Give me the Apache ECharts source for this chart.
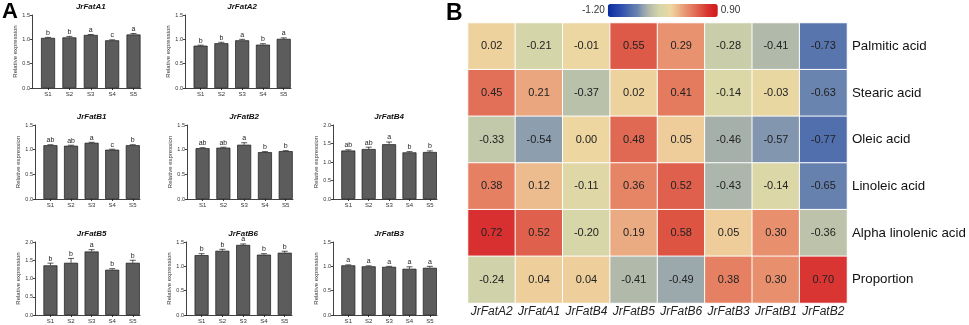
<!DOCTYPE html>
<html>
<head>
<meta charset="utf-8">
<script src="https://cdn.jsdelivr.net/npm/echarts@6/dist/echarts.min.js"></script>
<style>
html,body{margin:0;padding:0;background:#fff;}
#chart{width:969px;height:325px;}
</style>
</head>
<body>
<div id="chart"></div>
<script>
// ---------- Panel A data ----------
const samples = ['S1', 'S2', 'S3', 'S4', 'S5'];

const nameA1 = 'JrFatA1';
const valA1 = [1.03, 1.04, 1.09, 0.98, 1.10];
const errA1 = [0.01, 0.02, 0.01, 0.01, 0.02];
const letA1 = ['b', 'b', 'a', 'c', 'a'];

const nameA2 = 'JrFatA2';
const valA2 = [0.87, 0.92, 0.98, 0.89, 1.01];
const errA2 = [0.01, 0.02, 0.02, 0.02, 0.02];
const letA2 = ['b', 'b', 'a', 'b', 'a'];

const nameB1 = 'JrFatB1';
const valB1 = [1.09, 1.08, 1.14, 1.00, 1.09];
const errB1 = [0.01, 0.01, 0.01, 0.01, 0.01];
const letB1 = ['ab', 'ab', 'a', 'c', 'b'];

const nameB2 = 'JrFatB2';
const valB2 = [1.03, 1.04, 1.10, 0.95, 0.97];
const errB2 = [0.01, 0.01, 0.04, 0.01, 0.01];
const letB2 = ['ab', 'ab', 'a', 'b', 'b'];

const nameB4 = 'JrFatB4';
const valB4 = [1.31, 1.35, 1.48, 1.26, 1.27];
const errB4 = [0.02, 0.05, 0.06, 0.02, 0.03];
const letB4 = ['ab', 'ab', 'a', 'b', 'b'];

const nameB5 = 'JrFatB5';
const valB5 = [1.36, 1.43, 1.74, 1.24, 1.43];
const errB5 = [0.06, 0.12, 0.05, 0.03, 0.07];
const letB5 = ['b', 'b', 'a', 'b', 'b'];

const nameB6 = 'JrFatB6';
const valB6 = [1.23, 1.32, 1.44, 1.24, 1.28];
const errB6 = [0.03, 0.03, 0.02, 0.02, 0.03];
const letB6 = ['b', 'b', 'a', 'b', 'b'];

const nameB3 = 'JrFatB3';
const valB3 = [1.02, 1.00, 0.99, 0.95, 0.97];
const errB3 = [0.01, 0.01, 0.01, 0.04, 0.03];
const letB3 = ['a', 'a', 'a', 'a', 'a'];

const yMaxList = [1.5, 1.5, 1.5, 1.5, 2.0, 2.0, 1.5, 1.5];

// ---------- Panel B data ----------
const genes = ['JrFatA2', 'JrFatA1', 'JrFatB4', 'JrFatB5', 'JrFatB6', 'JrFatB3', 'JrFatB1', 'JrFatB2'];
const acids = ['Palmitic acid', 'Stearic acid', 'Oleic acid', 'Linoleic acid', 'Alpha linolenic acid', 'Proportion'];
const palmitic   = [0.02, -0.21, -0.01, 0.55, 0.29, -0.28, -0.41, -0.73];
const stearic    = [0.45, 0.21, -0.37, 0.02, 0.41, -0.14, -0.03, -0.63];
const oleic      = [-0.33, -0.54, 0.00, 0.48, 0.05, -0.46, -0.57, -0.77];
const linoleic   = [0.38, 0.12, -0.11, 0.36, 0.52, -0.43, -0.14, -0.65];
const alphaLin   = [0.72, 0.52, -0.20, 0.19, 0.58, 0.05, 0.30, -0.36];
const proportion = [-0.24, 0.04, 0.04, -0.41, -0.49, 0.38, 0.30, 0.70];
const scaleMin = -1.20, scaleMax = 0.90;

// colour ramp anchors (style only): [value, colour]
const rampAnchors = [
  [-1.20, '#0a2ca0'], [-0.90, '#3656b0'], [-0.75, '#5572ac'], [-0.63, '#6a84b0'],
  [-0.55, '#8a9cb0'], [-0.45, '#a8b2aa'], [-0.33, '#c2c8aa'], [-0.20, '#d6d6a8'],
  [-0.05, '#e6d8a4'], [0.00, '#eed6a0'], [0.05, '#eecd9a'], [0.20, '#eaa880'],
  [0.30, '#e8906e'], [0.40, '#e47c60'], [0.50, '#df6450'], [0.60, '#dc5040'],
  [0.72, '#d83030'], [0.90, '#d01818']
];
function hex2rgb(h) { return [1, 3, 5].map(i => parseInt(h.substr(i, 2), 16)); }
function rampColor(v) {
  for (let i = 0; i < rampAnchors.length - 1; i++) {
    const [v0, c0] = rampAnchors[i], [v1, c1] = rampAnchors[i + 1];
    if (v <= v1 + 1e-9) {
      const t = (v - v0) / (v1 - v0);
      const a = hex2rgb(c0), b = hex2rgb(c1);
      return 'rgb(' + a.map((x, k) => Math.round(x + (b[k] - x) * t)).join(',') + ')';
    }
  }
  return rampAnchors[rampAnchors.length - 1][1];
}
const rampColors = [];
for (let k = 0; k <= 210; k++) rampColors.push(rampColor(scaleMin + (scaleMax - scaleMin) * k / 210));

// ---------- layout ----------
const FONT = '"Liberation Sans", Arial, sans-serif';
const panels = [
  {name: nameA1, val: valA1, err: errA1, let: letA1, grid: {left: 32,  top: 15,  width: 109, height: 73}},
  {name: nameA2, val: valA2, err: errA2, let: letA2, grid: {left: 185, top: 15,  width: 106, height: 73}},
  {name: nameB1, val: valB1, err: errB1, let: letB1, grid: {left: 35,  top: 125, width: 105, height: 74}},
  {name: nameB2, val: valB2, err: errB2, let: letB2, grid: {left: 187, top: 125, width: 106, height: 74}},
  {name: nameB4, val: valB4, err: errB4, let: letB4, grid: {left: 333, top: 125, width: 104, height: 74}},
  {name: nameB5, val: valB5, err: errB5, let: letB5, grid: {left: 35,  top: 242, width: 105, height: 73}},
  {name: nameB6, val: valB6, err: errB6, let: letB6, grid: {left: 186, top: 242, width: 106, height: 73}},
  {name: nameB3, val: valB3, err: errB3, let: letB3, grid: {left: 333, top: 242, width: 104, height: 73}}
];
const X_MIN = 0.25, X_MAX = 5.35;

const grids = [], xAxes = [], yAxes = [], series = [], titles = [];
panels.forEach((p, i) => {
  grids.push(Object.assign({outerBoundsMode: 'none', containLabel: false}, p.grid));
  const ymax = yMaxList[i];
  xAxes.push({
    gridIndex: i, type: 'value', min: X_MIN, max: X_MAX,
    splitLine: {show: false},
    axisLine: {show: true, lineStyle: {color: '#111', width: 0.8}},
    axisTick: {show: true, length: 2, lineStyle: {color: '#111', width: 0.8},
               customValues: samples.map((s, k) => k + 1)},
    axisLabel: {fontSize: 6, color: '#333', margin: 3, fontFamily: FONT,
                customValues: samples.map((s, k) => k + 1),
                formatter: v => samples[Math.round(v) - 1] || ''}
  });
  yAxes.push({
    gridIndex: i, type: 'value', min: 0, max: ymax, interval: 0.5,
    splitLine: {show: false},
    axisLine: {show: true, lineStyle: {color: '#111', width: 0.8}},
    axisTick: {show: true, length: 2, lineStyle: {color: '#111', width: 0.8}},
    axisLabel: {fontSize: 5.5, color: '#333', margin: 2, fontFamily: FONT,
                formatter: v => v.toFixed(1)},
    name: 'Relative expression', nameLocation: 'middle', nameGap: 13,
    nameTextStyle: {fontSize: 6, color: '#333', fontFamily: FONT}
  });
  series.push({
    type: 'bar', xAxisIndex: i, yAxisIndex: i, barWidth: 14,
    itemStyle: {color: '#5c5c5c', borderColor: '#1a1a1a', borderWidth: 0.7},
    data: p.val.map((v, k) => [k + 1, v]),
    silent: true, animation: false
  });
  const letters = p.let;
  series.push({
    type: 'custom', xAxisIndex: i, yAxisIndex: i, silent: true, animation: false,
    data: p.val.map((v, k) => [k + 1, v, p.err[k]]),
    renderItem: (params, api) => {
      const x = api.value(0), v = api.value(1), e = api.value(2);
      const b = api.coord([x, v]);
      const t = api.coord([x, v + e]);
      return {type: 'group', children: [
        {type: 'line', shape: {x1: b[0], y1: b[1], x2: t[0], y2: t[1]}, style: {stroke: '#111', lineWidth: 0.7}},
        {type: 'line', shape: {x1: t[0] - 3, y1: t[1], x2: t[0] + 3, y2: t[1]}, style: {stroke: '#111', lineWidth: 0.7}},
        {type: 'text', style: {text: letters[params.dataIndex], x: t[0], y: t[1] - 1,
          textAlign: 'center', textVerticalAlign: 'bottom', fontSize: 7, fill: '#222', fontFamily: FONT}}
      ]};
    }
  });
  const g = p.grid;
  const cx = g.left + g.width * ((3 - X_MIN) / (X_MAX - X_MIN));
  titles.push({
    text: p.name, left: cx, top: g.top - 12, textAlign: 'center', padding: 0,
    textStyle: {fontSize: 8, fontWeight: 'bold', fontStyle: 'italic', color: '#111', fontFamily: FONT}
  });
});

titles.push({text: 'A', left: 2, top: 1, padding: 0, textStyle: {fontSize: 22, fontWeight: 'bold', color: '#000', fontFamily: FONT}});
titles.push({text: 'B', left: 446, top: 2, padding: 0, textStyle: {fontSize: 23, fontWeight: 'bold', color: '#000', fontFamily: FONT}});

// ---------- heatmap ----------
const hmIdx = panels.length;
grids.push({left: 468, top: 23, width: 379, height: 280, outerBoundsMode: 'none', containLabel: false});
xAxes.push({
  gridIndex: hmIdx, type: 'category', data: genes,
  axisLine: {show: false}, axisTick: {show: false}, splitArea: {show: false},
  axisLabel: {interval: 0, fontSize: 12, fontStyle: 'italic', color: '#222', margin: 3, fontFamily: FONT}
});
yAxes.push({
  gridIndex: hmIdx, type: 'category', data: acids, inverse: true, position: 'right',
  axisLine: {show: false}, axisTick: {show: false}, splitArea: {show: false},
  axisLabel: {interval: 0, fontSize: 13.3, color: '#111', margin: 5, fontFamily: FONT}
});
const hmRows = [palmitic, stearic, oleic, linoleic, alphaLin, proportion];
const hmData = [];
hmRows.forEach((row, r) => row.forEach((v, c) => hmData.push([c, r, v])));
series.push({
  type: 'heatmap', xAxisIndex: hmIdx, yAxisIndex: hmIdx, data: hmData,
  itemStyle: {borderColor: '#fff', borderWidth: 1},
  label: {show: true, formatter: p => p.value[2].toFixed(2), fontSize: 11, color: '#222', fontFamily: FONT},
  silent: true, animation: false
});

const option = {
  animation: false,
  backgroundColor: '#fff',
  title: titles,
  grid: grids,
  xAxis: xAxes,
  yAxis: yAxes,
  visualMap: {
    type: 'continuous', seriesIndex: series.length - 1,
    min: scaleMin, max: scaleMax, calculable: false,
    orient: 'horizontal', left: 567, top: -11,
    itemWidth: 13, itemHeight: 110,
    text: [scaleMax.toFixed(2), scaleMin.toFixed(2)],
    textGap: 3,
    textStyle: {fontSize: 10, color: '#333', fontFamily: FONT},
    inRange: {color: rampColors}
  },
  series: series
};

const chart = echarts.init(document.getElementById('chart'), null, {renderer: 'canvas'});
chart.setOption(option);
</script>
</body>
</html>
